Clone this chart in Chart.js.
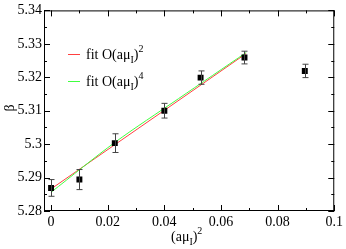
<!DOCTYPE html>
<html>
<head>
<meta charset="utf-8">
<script src="https://cdn.jsdelivr.net/npm/chart.js@4/dist/chart.umd.min.js"></script>
<style>
  html, body { margin: 0; padding: 0; background: #fff; }
  #wrap { width: 346px; height: 249px; }
</style>
</head>
<body>
<div id="wrap"><canvas id="fitChart"></canvas></div>
<script>
// dados
const xPontos = [0, 0.01, 0.0225, 0.04, 0.0528, 0.0683, 0.0896];
const betaPontos = [5.2869, 5.2894, 5.3003, 5.3100, 5.3199, 5.3259, 5.3219];
const betaErros = [0.0025, 0.003, 0.0028, 0.0022, 0.002, 0.0019, 0.002];

const xFit2 = [0, 0.0689];
const betaFit2 = [5.2866, 5.3271];

const xFit4 = [0, 0.0225, 0.045, 0.0689];
const betaFit4 = [5.2856, 5.3005, 5.3136, 5.3274];

const xTicks = [0, 0.02, 0.04, 0.06, 0.08, 0.1];
const yTicks = [5.28, 5.29, 5.3, 5.31, 5.32, 5.33, 5.34];

const fonte = "'Liberation Serif', 'Times New Roman', serif";

// =========================
// barras de erro
// =========================
const errorBars = {
  id: "errorBars",
  afterDatasetsDraw(chart) {
    const { ctx, scales } = chart;
    ctx.save();
    ctx.strokeStyle = "#444";
    ctx.lineWidth = 1;
    xPontos.forEach((x, i) => {
      const px = Math.round(scales.x.getPixelForValue(x)) + 0.5;
      const top = scales.y.getPixelForValue(betaPontos[i] + betaErros[i]);
      const bot = scales.y.getPixelForValue(betaPontos[i] - betaErros[i]);
      ctx.beginPath();
      ctx.moveTo(px, top);
      ctx.lineTo(px, bot);
      ctx.moveTo(px - 3, top);
      ctx.lineTo(px + 3, top);
      ctx.moveTo(px - 3, bot);
      ctx.lineTo(px + 3, bot);
      ctx.stroke();
    });
    ctx.restore();
  },
};

// =========================
// moldura, ticks internos, títulos e legenda
// =========================
function textoComIndices(ctx, partes, x, y) {
  // partes: [texto, tipo] tipo = "n" normal, "sub", "sup"
  let cx = x;
  partes.forEach(([t, tipo]) => {
    if (tipo === "sub") {
      ctx.font = "10px " + fonte;
      ctx.fillText(t, cx, y + 4);
    } else if (tipo === "sup") {
      ctx.font = "10px " + fonte;
      ctx.fillText(t, cx, y - 7);
    } else {
      ctx.font = "14px " + fonte;
      ctx.fillText(t, cx, y);
    }
    cx += ctx.measureText(t).width;
  });
  return cx - x;
}

const moldura = {
  id: "moldura",
  afterDraw(chart) {
    const { ctx, chartArea: a, scales } = chart;
    ctx.save();
    ctx.strokeStyle = "#000";
    ctx.lineWidth = 1;
    ctx.strokeRect(a.left + 0.5, a.top + 0.5, a.right - a.left - 1, a.bottom - a.top - 1);

    ctx.beginPath();
    for (let v = 0; v <= 0.1001; v += 0.01) {
      const px = Math.round(scales.x.getPixelForValue(v)) + 0.5;
      const len = Math.round(v * 100) % 2 === 0 ? 6 : 3;
      ctx.moveTo(px, a.bottom);
      ctx.lineTo(px, a.bottom - len);
      ctx.moveTo(px, a.top);
      ctx.lineTo(px, a.top + len);
    }
    for (let k = 0; k <= 12; k++) {
      const py = Math.round(scales.y.getPixelForValue(5.28 + k * 0.005)) + 0.5;
      const len = k % 2 === 0 ? 6 : 3;
      ctx.moveTo(a.left, py);
      ctx.lineTo(a.left + len, py);
      ctx.moveTo(a.right, py);
      ctx.lineTo(a.right - len, py);
    }
    ctx.stroke();

    ctx.fillStyle = "#000";
    ctx.textBaseline = "alphabetic";
    ctx.textAlign = "left";

    // título do eixo x
    textoComIndices(ctx, [["(aμ", "n"], ["I", "sub"], [")", "n"], ["2", "sup"]], 171, 241);

    // título do eixo y
    ctx.save();
    ctx.translate(14, 108);
    ctx.rotate(-Math.PI / 2);
    ctx.font = "14px " + fonte;
    ctx.textAlign = "center";
    ctx.fillText("β", 0, 0);
    ctx.restore();

    // legenda
    const itens = [
      ["#ff4040", "2", 54],
      ["#40ff40", "4", 81],
    ];
    itens.forEach(([cor, pot, y]) => {
      ctx.strokeStyle = cor;
      ctx.beginPath();
      ctx.moveTo(68, y + 0.5);
      ctx.lineTo(80, y + 0.5);
      ctx.stroke();
      ctx.fillStyle = "#000";
      textoComIndices(ctx, [["fit O(aμ", "n"], ["I", "sub"], [")", "n"], [pot, "sup"]], 86, y + 5);
    });
    ctx.restore();
  },
};

new Chart(document.getElementById("fitChart"), {
  type: "scatter",
  data: {
    datasets: [
      {
        label: "fit O(aμI)^2",
        type: "line",
        data: xFit2.map((x, i) => ({ x: x, y: betaFit2[i] })),
        borderColor: "#ff4040",
        borderWidth: 1,
        pointRadius: 0,
        fill: false,
        order: 2,
      },
      {
        label: "fit O(aμI)^4",
        type: "line",
        data: xFit4.map((x, i) => ({ x: x, y: betaFit4[i] })),
        borderColor: "#40ff40",
        borderWidth: 1,
        pointRadius: 0,
        tension: 0.3,
        fill: false,
        order: 1,
      },
      {
        label: "dados",
        data: xPontos.map((x, i) => ({ x: x, y: betaPontos[i] })),
        pointStyle: "rect",
        pointRadius: 4.2,
        backgroundColor: "#000",
        borderColor: "#000",
        borderWidth: 0,
        showLine: false,
        order: 0,
      },
    ],
  },
  options: {
    responsive: true,
    maintainAspectRatio: false,
    animation: false,
    layout: {
      padding: { top: 5, right: 10, left: 0, bottom: 0 },
    },
    plugins: {
      legend: { display: false },
      tooltip: { enabled: false },
    },
    scales: {
      x: {
        type: "linear",
        min: -0.0025,
        max: 0.1,
        afterBuildTicks: (scale) => {
          scale.ticks = xTicks.map((v) => ({ value: v }));
        },
        afterFit: (scale) => {
          scale.height = 38;
        },
        grid: { display: false, drawTicks: false },
        border: { display: false },
        ticks: {
          color: "#000",
          padding: 3,
          maxRotation: 0,
          autoSkip: false,
          font: { family: fonte, size: 14 },
          callback: (v) => String(Number(v.toFixed(4))),
        },
      },
      y: {
        type: "linear",
        min: 5.28,
        max: 5.34,
        afterBuildTicks: (scale) => {
          scale.ticks = yTicks.map((v) => ({ value: v }));
        },
        afterFit: (scale) => {
          scale.width = 44;
        },
        grid: { display: false, drawTicks: false },
        border: { display: false },
        ticks: {
          color: "#000",
          padding: 2,
          autoSkip: false,
          font: { family: fonte, size: 14 },
          callback: (v) => String(Number(v.toFixed(4))),
        },
      },
    },
  },
  plugins: [errorBars, moldura],
});
</script>
</body>
</html>
